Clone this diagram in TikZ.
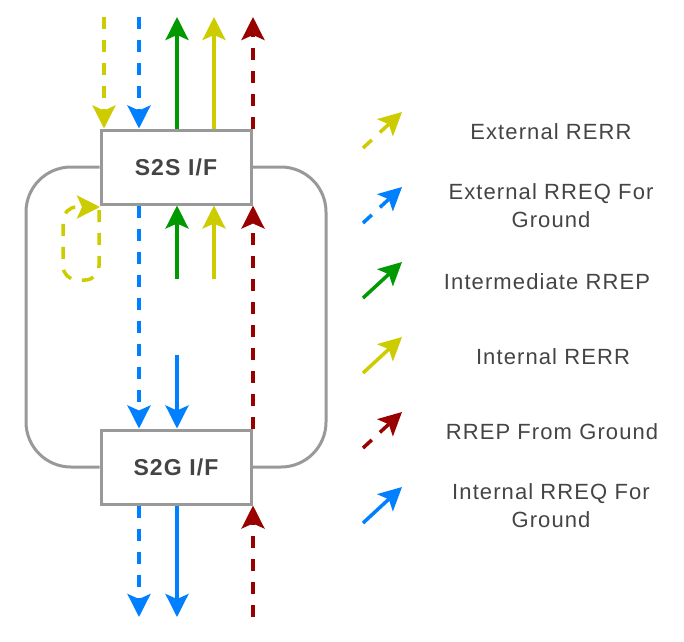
\documentclass[tikz,border=0pt]{standalone}
\usepackage{fontspec}
\setmainfont{Liberation Sans}
\newfontfamily\labelfont{Liberation Sans}[LetterSpace=5]
\usetikzlibrary{arrows.meta}
\definecolor{rerryellow}{HTML}{CCCC00}
\definecolor{rreqblue}{HTML}{007FFF}
\definecolor{rrepgreen}{HTML}{009900}
\definecolor{rrepred}{HTML}{990000}
\definecolor{boxgray}{HTML}{999999}
\definecolor{textgray}{HTML}{444444}
\tikzset{
  flow/.style={line width=3.5pt, -{Stealth[length=23pt,width=23pt,inset=5pt]}},
  dashflow/.style={flow, dash pattern=on 12pt off 11pt},
  ifbox/.style={draw=boxgray, line width=3pt, fill=white, minimum width=150pt, minimum height=74pt, text=textgray, font=\labelfont\bfseries\fontsize{23}{27}\selectfont},
  legtext/.style={align=center, text=textgray, font=\labelfont\fontsize{22}{28}\selectfont},
  ringline/.style={draw=boxgray, line width=3pt, rounded corners=45pt}
}
\begin{document}
\begin{tikzpicture}[x=1pt,y=-1pt]
\useasboundingbox (0,0) rectangle (684,641);
\node[ifbox] (s2s) at (176,167) {S2S I/F};
\node[ifbox] (s2g) at (176,467) {S2G I/F};
\coordinate (ringl) at (26,467);
\coordinate (ringr) at (326,467);
\draw[ringline] (s2s.west) -| (ringl) -- (s2g.west);
\draw[ringline] (s2s.east) -| (ringr) -- (s2g.east);

\coordinate (ydtop) at (104,17);
\coordinate (bdtop) at (139,17);
\coordinate (gstop) at (177,17);
\coordinate (ystop) at (214,17);
\coordinate (rdtop) at (253,17);
\draw[dashflow, rerryellow] (ydtop) -- (ydtop |- s2s.north);
\draw[dashflow, rreqblue] (bdtop) -- (bdtop |- s2s.north);
\draw[flow, rrepgreen] (gstop |- s2s.north) -- (gstop);
\draw[flow, rerryellow] (ystop |- s2s.north) -- (ystop);
\draw[dashflow, rrepred] (rdtop |- s2s.north) -- (rdtop);

\coordinate (gsmid) at (177,279);
\coordinate (ysmid) at (214,279);
\coordinate (bsmid) at (177,355);
\draw[dashflow, rreqblue] (bdtop |- s2s.south) -- (bdtop |- s2g.north);
\draw[flow, rrepgreen] (gsmid) -- (gsmid |- s2s.south);
\draw[flow, rerryellow] (ysmid) -- (ysmid |- s2s.south);
\draw[dashflow, rrepred] (rdtop |- s2g.north) -- (rdtop |- s2s.south);
\draw[flow, rreqblue] (bsmid) -- (bsmid |- s2g.north);

\coordinate (bdbot) at (139,617);
\coordinate (bsbot) at (177,617);
\coordinate (rdbot) at (253,617);
\draw[dashflow, rreqblue] (bdbot |- s2g.south) -- (bdbot);
\draw[flow, rreqblue] (bsbot |- s2g.south) -- (bsbot);
\draw[dashflow, rrepred] (rdbot) -- (rdbot |- s2g.south);

\coordinate (loopa) at (99,210);
\coordinate (loopb) at (63,280);
\coordinate (loopc) at (100,207);
\draw[dashflow, rerryellow, rounded corners=14pt] (loopa) |- (loopb) |- (loopc);

\coordinate (lg1a) at (363,148); \coordinate (lg1b) at (402,112);
\coordinate (lg2a) at (363,223); \coordinate (lg2b) at (402,187);
\coordinate (lg3a) at (363,298); \coordinate (lg3b) at (402,262);
\coordinate (lg4a) at (363,373); \coordinate (lg4b) at (402,337);
\coordinate (lg5a) at (363,448); \coordinate (lg5b) at (402,412);
\coordinate (lg6a) at (363,523); \coordinate (lg6b) at (402,487);
\draw[dashflow, rerryellow] (lg1a) -- (lg1b);
\draw[dashflow, rreqblue] (lg2a) -- (lg2b);
\draw[flow, rrepgreen] (lg3a) -- (lg3b);
\draw[flow, rerryellow] (lg4a) -- (lg4b);
\draw[dashflow, rrepred] (lg5a) -- (lg5b);
\draw[flow, rreqblue] (lg6a) -- (lg6b);
\node[legtext] (lg1t) at (551,132) {External RERR};
\node[legtext] (lg2t) at (551,206) {External RREQ For\\Ground};
\node[legtext] (lg3t) at (547,282) {Intermediate RREP};
\node[legtext] (lg4t) at (553,357) {Internal RERR};
\node[legtext] (lg5t) at (552,432) {RREP From Ground};
\node[legtext] (lg6t) at (551,506) {Internal RREQ For\\Ground};
\end{tikzpicture}
\end{document}
